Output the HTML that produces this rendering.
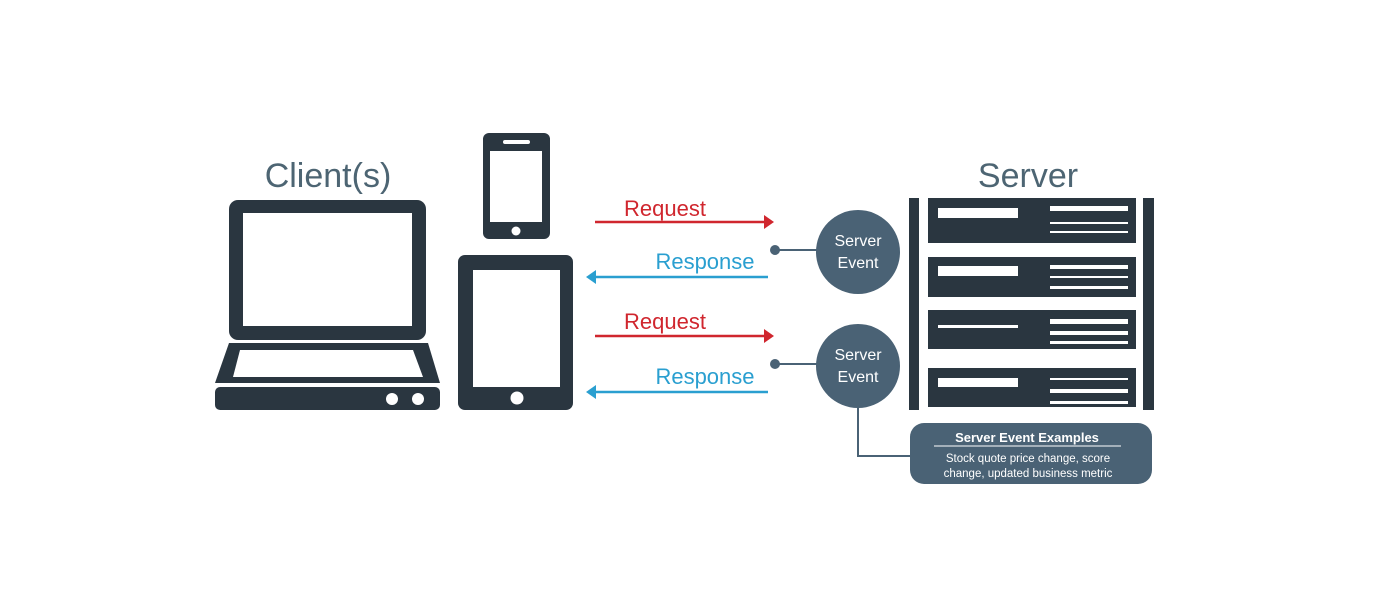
<!DOCTYPE html>
<html><head><meta charset="utf-8"><style>
html,body{margin:0;padding:0;background:#fff;width:1380px;height:600px;overflow:hidden}
svg{display:block}
text{font-family:"Liberation Sans",sans-serif}
</style></head><body>
<svg width="1380" height="600" viewBox="0 0 1380 600" xmlns="http://www.w3.org/2000/svg">
<!-- titles -->
<text x="328" y="187" font-size="34" fill="#4d6573" text-anchor="middle">Client(s)</text>
<text x="1028" y="187" font-size="34" fill="#4d6573" text-anchor="middle">Server</text>
<!-- laptop -->
<rect x="229" y="200" width="197" height="140" rx="9" fill="#2a3640"/>
<rect x="243" y="213" width="169" height="113" fill="#fff"/>
<path d="M229 343 L428 343 L440 383 L215 383 Z" fill="#2a3640"/>
<path d="M240 350 L413 350 L423 377 L233 377 Z" fill="#fff"/>
<rect x="215" y="387" width="225" height="23" rx="5" fill="#2a3640"/>
<circle cx="392" cy="399" r="6" fill="#fff"/>
<circle cx="418" cy="399" r="6" fill="#fff"/>
<!-- phone -->
<rect x="483" y="133" width="67" height="106" rx="6" fill="#2a3640"/>
<rect x="490" y="151" width="52" height="71" fill="#fff"/>
<rect x="503" y="140" width="27" height="4" rx="2" fill="#fff"/>
<circle cx="516" cy="231" r="4.5" fill="#fff"/>
<!-- tablet -->
<rect x="458" y="255" width="115" height="155" rx="7" fill="#2a3640"/>
<rect x="473" y="270" width="87" height="117" fill="#fff"/>
<circle cx="517" cy="398" r="6.5" fill="#fff"/>
<!-- arrows -->
<g font-size="22">
<text x="665" y="216" fill="#d0262e" text-anchor="middle">Request</text>
<line x1="595" y1="222" x2="766" y2="222" stroke="#d0262e" stroke-width="2.5"/>
<path d="M764 215 L774 222 L764 229 Z" fill="#d0262e"/>
<text x="705" y="269" fill="#2a9fd0" text-anchor="middle">Response</text>
<line x1="594" y1="277" x2="768" y2="277" stroke="#2a9fd0" stroke-width="2.5"/>
<path d="M596 270 L586 277 L596 284 Z" fill="#2a9fd0"/>
<text x="665" y="329" fill="#d0262e" text-anchor="middle">Request</text>
<line x1="595" y1="336" x2="766" y2="336" stroke="#d0262e" stroke-width="2.5"/>
<path d="M764 329 L774 336 L764 343 Z" fill="#d0262e"/>
<text x="705" y="384" fill="#2a9fd0" text-anchor="middle">Response</text>
<line x1="594" y1="392" x2="768" y2="392" stroke="#2a9fd0" stroke-width="2.5"/>
<path d="M596 385 L586 392 L596 399 Z" fill="#2a9fd0"/>
</g>
<!-- server events -->
<g stroke="#4a6275" stroke-width="2" fill="none">
<line x1="775" y1="250" x2="820" y2="250"/>
<line x1="775" y1="364" x2="820" y2="364"/>
<polyline points="858,405 858,456 911,456"/>
</g>
<circle cx="775" cy="250" r="5" fill="#4a6275"/>
<circle cx="775" cy="364" r="5" fill="#4a6275"/>
<circle cx="858" cy="252" r="42" fill="#4a6275"/>
<circle cx="858" cy="366" r="42" fill="#4a6275"/>
<g font-size="16" fill="#fff" text-anchor="middle">
<text x="858" y="246">Server</text><text x="858" y="268">Event</text>
<text x="858" y="360">Server</text><text x="858" y="382">Event</text>
</g>
<!-- rack -->
<rect x="909" y="198" width="10" height="212" fill="#2a3640"/>
<rect x="1143" y="198" width="11" height="212" fill="#2a3640"/>
<g fill="#2a3640">
<rect x="928" y="198" width="208" height="45"/>
<rect x="928" y="257" width="208" height="40"/>
<rect x="928" y="310" width="208" height="39"/>
<rect x="928" y="368" width="208" height="39"/>
</g>
<g fill="#fff">
<rect x="938" y="208" width="80" height="10"/>
<rect x="1050" y="206" width="78" height="5"/><rect x="1050" y="222" width="78" height="2"/><rect x="1050" y="231" width="78" height="2"/>
<rect x="938" y="266" width="80" height="10"/>
<rect x="1050" y="265" width="78" height="4"/><rect x="1050" y="276" width="78" height="2"/><rect x="1050" y="286" width="78" height="3"/>
<rect x="938" y="325" width="80" height="3"/>
<rect x="1050" y="319" width="78" height="5"/><rect x="1050" y="331" width="78" height="4"/><rect x="1050" y="341" width="78" height="3"/>
<rect x="938" y="378" width="80" height="9"/>
<rect x="1050" y="378" width="78" height="2"/><rect x="1050" y="389" width="78" height="4"/><rect x="1050" y="401" width="78" height="3"/>
</g>
<!-- callout -->
<rect x="910" y="423" width="242" height="61" rx="14" fill="#4a6275"/>
<text x="1027" y="442" font-size="13" font-weight="bold" fill="#fff" text-anchor="middle">Server Event Examples</text>
<line x1="934" y1="446" x2="1121" y2="446" stroke="#fff" stroke-width="1"/>
<text x="1028" y="462" font-size="11.5" fill="#fff" text-anchor="middle">Stock quote price change, score</text>
<text x="1028" y="477" font-size="11.5" fill="#fff" text-anchor="middle">change, updated business metric</text>
</svg>
</body></html>
